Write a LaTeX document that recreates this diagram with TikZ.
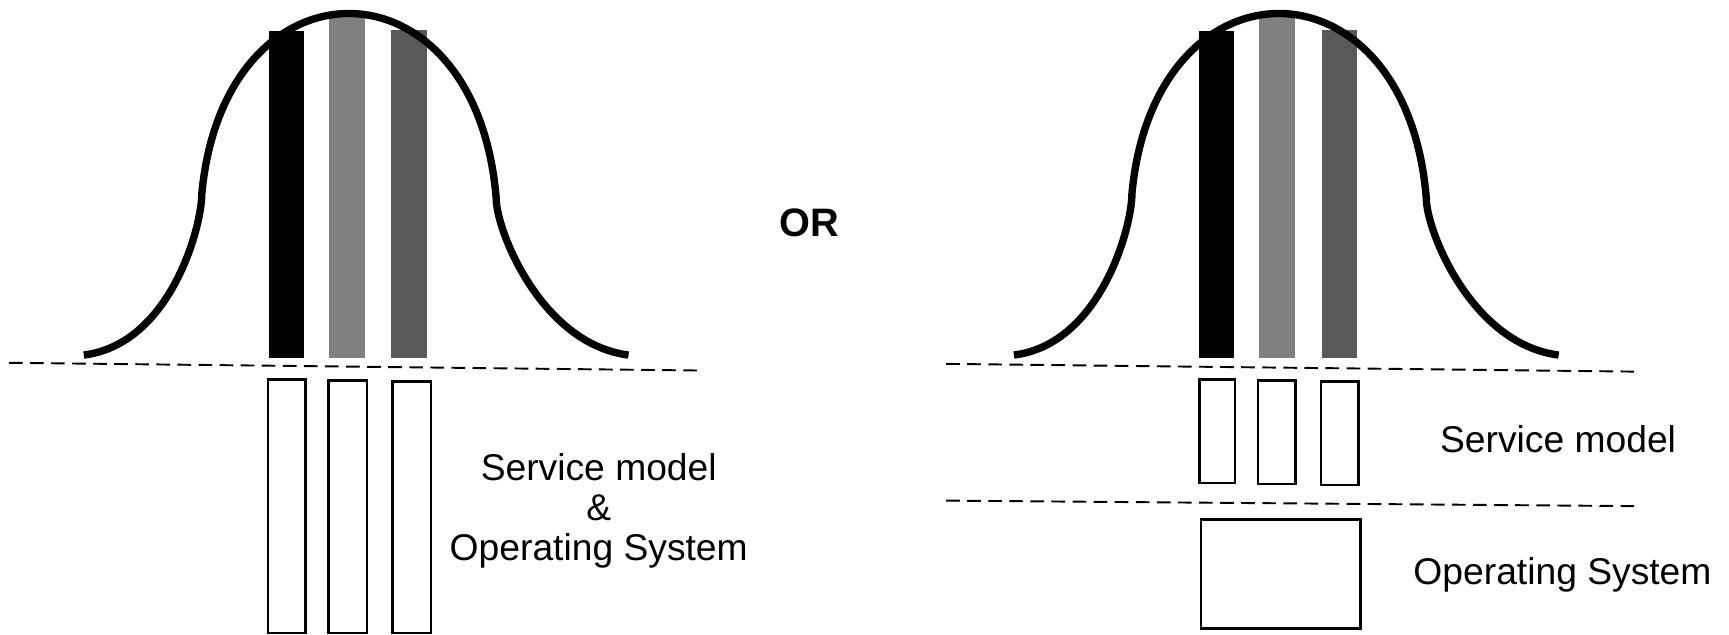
\documentclass[tikz,border=0pt]{standalone}
\usepackage{fontspec}
\setmainfont{Liberation Sans}
\usetikzlibrary{positioning}
\tikzset{
  bell/.style={line width=2.1pt,line join=round},
  box/.style={draw,line width=0.7pt},
  layer/.style={dash pattern=on 3.9pt off 2.1pt,line width=0.55pt},
  lbl/.style={font=\fontsize{10.6}{11.3}\selectfont,align=center,inner sep=0pt},
  orlbl/.style={font=\bfseries\fontsize{11.3}{13}\selectfont,inner sep=0pt},
}
% bell curve with the three service bars, shifted by #1
\newcommand{\bellbars}[1]{%
  \begin{scope}[shift={(#1,0)}]
    \fill[black] (244,28) rectangle (276,325);
    \fill[black!50] (298,15) rectangle (331,325);
    \fill[black!65] (355,27) rectangle (387,325);
    \draw[bell] (76,322) .. controls (155,312) and (183,205) .. (183,176)
      .. controls (203,-43) and (432,-43) .. (450,180)
      .. controls (450,209) and (491,312) .. (570,322);
  \end{scope}}

\begin{document}
\begin{tikzpicture}[x=0.011027cm,y=-0.011027cm]
\useasboundingbox (0,0) rectangle (1568,575);
% left: service model and OS together
\bellbars{0}
\draw[layer] (8,329) -- (632,336);
\draw[box] (243,344) rectangle (277,574);
\draw[box] (298,345) rectangle (333,574);
\draw[box] (356,346) rectangle (391,574);
\node[lbl,anchor=north] (svcos) at (543,411) {Service model\\\&\\Operating System};
% OR
\node[orlbl,anchor=base] (or) at (734,214.6) {OR};
% right: service model over a separate OS
\bellbars{843.5}
\draw[layer] (858,330) -- (1482,337);
\draw[layer] (858,454) -- (1482,459);
\draw[box] (1088,344) rectangle (1120,438);
\draw[box] (1141,345) rectangle (1175,439);
\draw[box] (1198,346) rectangle (1232,440);
\draw[box] (1089,471) rectangle (1234,570);
\node[lbl,anchor=base] (svc) at (1413,410) {Service model};
\node[lbl,anchor=base] (os) at (1417,530.5) {Operating System};
\end{tikzpicture}
\end{document}
